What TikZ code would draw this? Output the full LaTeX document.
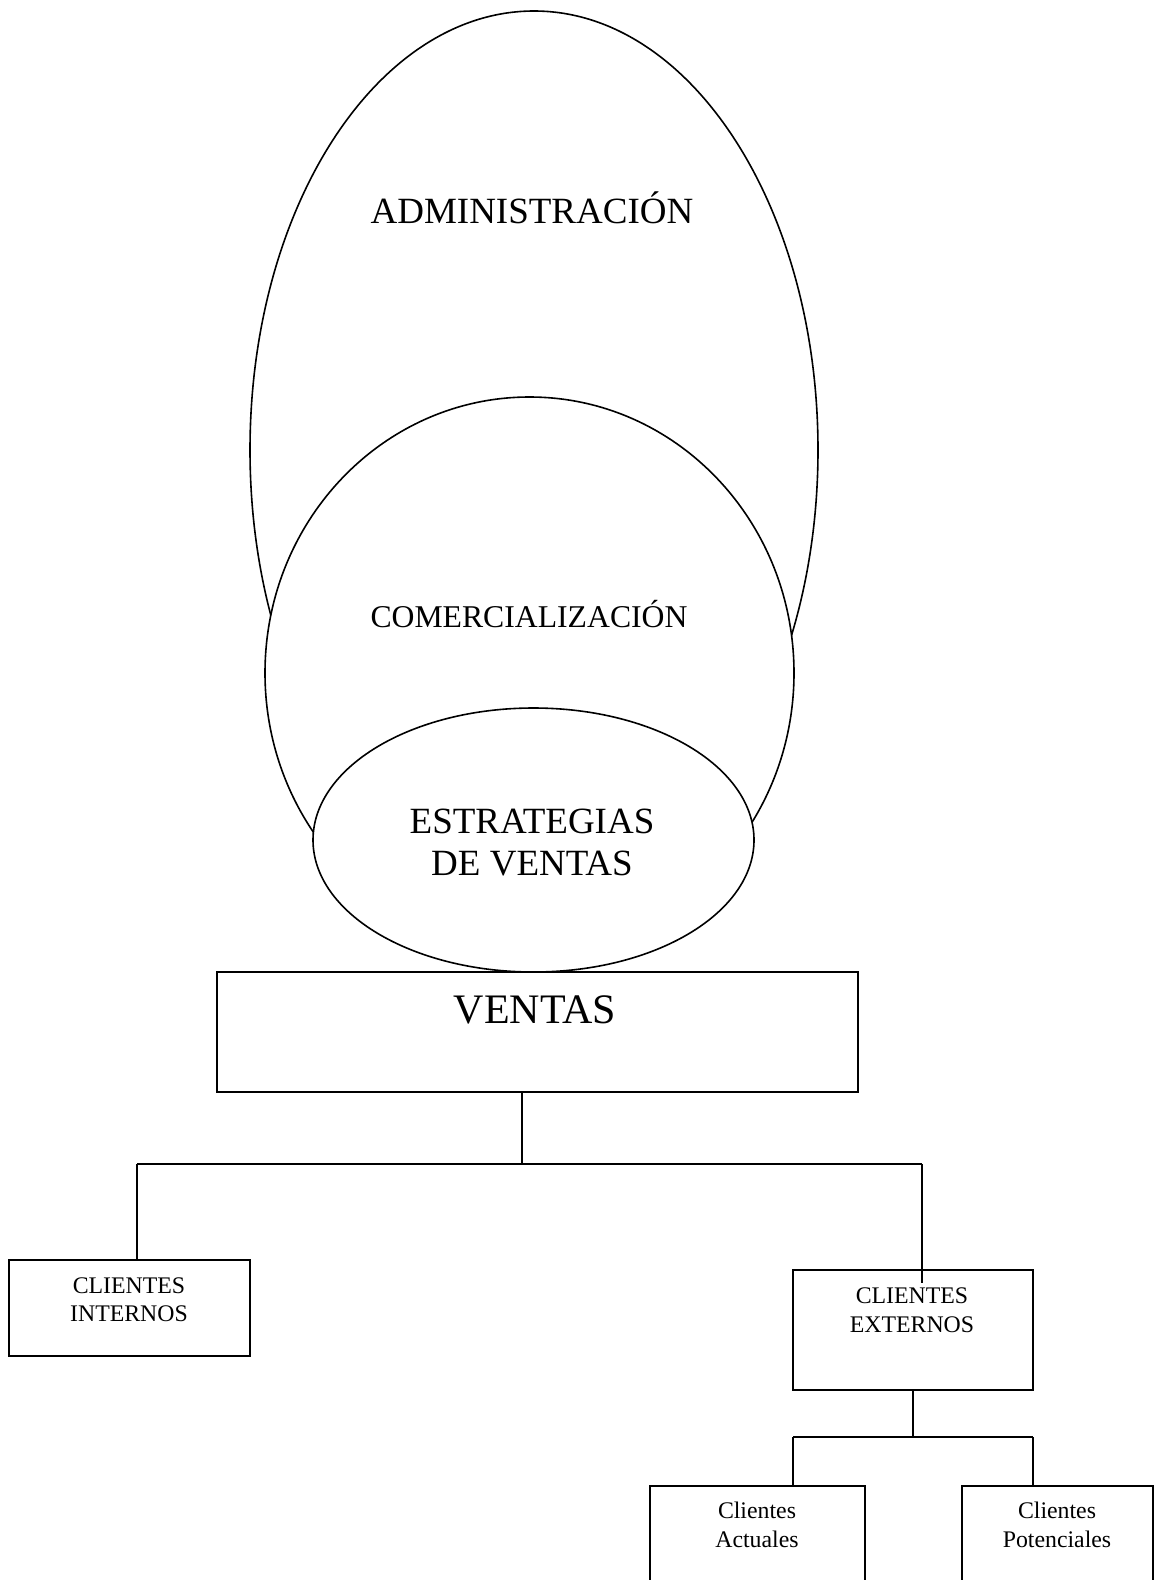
\documentclass[tikz,border=0pt]{standalone}
\usepackage{fontspec}
\setmainfont{Liberation Serif}
\usetikzlibrary{shapes.geometric}
\begin{document}
\begin{tikzpicture}[x=1pt,y=-1pt,
  outline/.style={draw=black,line width=1.6pt,inner sep=0pt,outer sep=0pt},
  oval/.style={outline,ellipse,fill=white},
  boxnode/.style={outline,rectangle,fill=white},
  conn/.style={draw=black,line width=1.6pt},
  lbl/.style={anchor=base,inner sep=0pt,text=black},
  bigfont/.style={font=\fontsize{37}{42.5}\selectfont},
  midfont/.style={font=\fontsize{31.7}{36}\selectfont},
  ventfont/.style={font=\fontsize{42}{48}\selectfont},
  smallfont/.style={font=\fontsize{23.8}{27.5}\selectfont}
]
\useasboundingbox (0,0) rectangle (1156,1580);
\clip (0,0) rectangle (1156,1580);
\fill[white] (0,0) rectangle (1156,1580);

% nested ovals
\node[oval,minimum width=568pt,minimum height=878pt] (adm) at (534,450) {};
\node[oval,minimum width=529pt,minimum height=552pt] (com) at (529.5,673) {};
\node[oval,minimum width=441pt,minimum height=264pt] (est) at (533.5,840) {};

\node[lbl,bigfont] (admt) at (532,223) {ADMINISTRACIÓN};
\node[lbl,midfont] (comt) at (529,627) {COMERCIALIZACIÓN};
\node[lbl,bigfont] (estt1) at (532,833) {ESTRATEGIAS};
\node[lbl,bigfont] (estt2) at (532,875) {DE VENTAS};

% boxes
\node[boxnode,minimum width=641pt,minimum height=120pt] (ventas) at (537.5,1032) {};
\node[lbl,ventfont] (ventast) at (535,1023) {VENTAS};

\node[boxnode,minimum width=241pt,minimum height=96pt] (internos) at (129.5,1308) {};
\node[lbl,smallfont] (int1) at (129,1293) {CLIENTES};
\node[lbl,smallfont] (int2) at (129,1321) {INTERNOS};

\node[boxnode,minimum width=240pt,minimum height=120pt] (externos) at (913,1330) {};
\node[lbl,smallfont] (ext1) at (912,1303) {CLIENTES};
\node[lbl,smallfont] (ext2) at (912,1332) {EXTERNOS};

\node[boxnode,minimum width=215pt,minimum height=200pt] (actuales) at (757.5,1586) {};
\node[lbl,smallfont] (act1) at (757,1518) {Clientes};
\node[lbl,smallfont] (act2) at (757,1547) {Actuales};

\node[boxnode,minimum width=191pt,minimum height=200pt] (potenciales) at (1057.5,1586) {};
\node[lbl,smallfont] (pot1) at (1057,1518) {Clientes};
\node[lbl,smallfont] (pot2) at (1057,1547) {Potenciales};

% connectors
\coordinate (j1) at (522,1164);
\coordinate (j1L) at (137,1164);
\coordinate (j1R) at (922,1164);
\coordinate (extin) at (922,1283);
\coordinate (j2) at (913,1437);
\coordinate (j2L) at (793,1437);
\coordinate (j2R) at (1033,1437);

\draw[conn] (ventas.south -| j1) -- (j1);
\draw[conn] (j1L) -- (j1R);
\draw[conn] (j1L) -- (j1L |- internos.north);
\draw[conn] (j1R) -- (extin);
\draw[conn] (externos.south -| j2) -- (j2);
\draw[conn] (j2L) -- (j2R);
\draw[conn] (j2L) -- (j2L |- actuales.north);
\draw[conn] (j2R) -- (j2R |- potenciales.north);
\end{tikzpicture}
\end{document}
